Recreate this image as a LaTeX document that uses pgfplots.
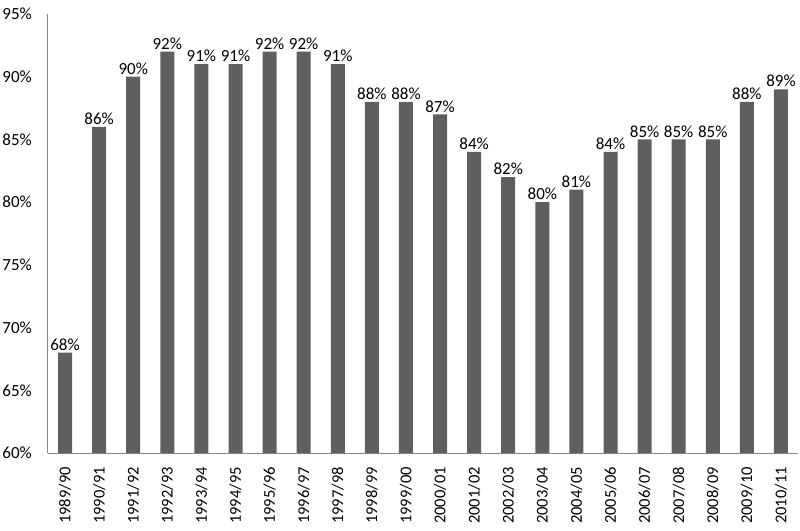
\documentclass[border=0pt]{standalone}
\usepackage{pgfplots}
\pgfplotsset{compat=1.18}
\usepackage{fontspec}
\setmainfont{Carlito}
\definecolor{barc}{HTML}{5F5F5F}
\definecolor{axc}{HTML}{888888}
\begin{document}
\begin{tikzpicture}[x=1bp,y=1bp]
\path[use as bounding box] (-48bp,-78bp) rectangle (752bp,453bp);
\begin{axis}[
  at={(0,0)}, anchor=south west,
  scale only axis, width=750bp, height=439bp,
  xmin=-0.5, xmax=21.5, ymin=60, ymax=95,
  ytick={60,65,...,95},
  yticklabel={\pgfmathprintnumber{\tick}\%},
  /pgf/number format/assume math mode=true,
  xtick={0,...,21},
  xticklabels={1989/90,1990/91,1991/92,1992/93,1993/94,1994/95,1995/96,1996/97,1997/98,1998/99,1999/00,2000/01,2001/02,2002/03,2003/04,2004/05,2005/06,2006/07,2007/08,2008/09,2009/10,2010/11},
  x tick label style={rotate=90, anchor=east, font=\fontsize{16.5bp}{19bp}\selectfont, inner sep=0pt, xshift=-14bp},
  y tick label style={anchor=east, font=\fontsize{17bp}{19bp}\selectfont, inner sep=0pt, xshift=-16bp},
  major tick length=0pt,
  axis x line*=bottom, axis y line*=left,
  axis line style={axc, line width=1bp},
  separate axis lines,
  x axis line style={-}, y axis line style={-},
  ybar, bar width=14bp, bar shift=0pt,
  nodes near coords={\pgfmathprintnumber{\pgfplotspointmeta}\%},
  nodes near coords style={font=\fontsize{17bp}{19bp}\selectfont, black, inner sep=2bp},
  point meta=explicit,
  clip=false,
]
\addplot[fill=barc, draw=none] table[meta=y] {
x y
0 68
1 86
2 90
3 92
4 91
5 91
6 92
7 92
8 91
9 88
10 88
11 87
12 84
13 82
14 80
15 81
16 84
17 85
18 85
19 85
20 88
21 89
};
\end{axis}
\end{tikzpicture}
\end{document}
